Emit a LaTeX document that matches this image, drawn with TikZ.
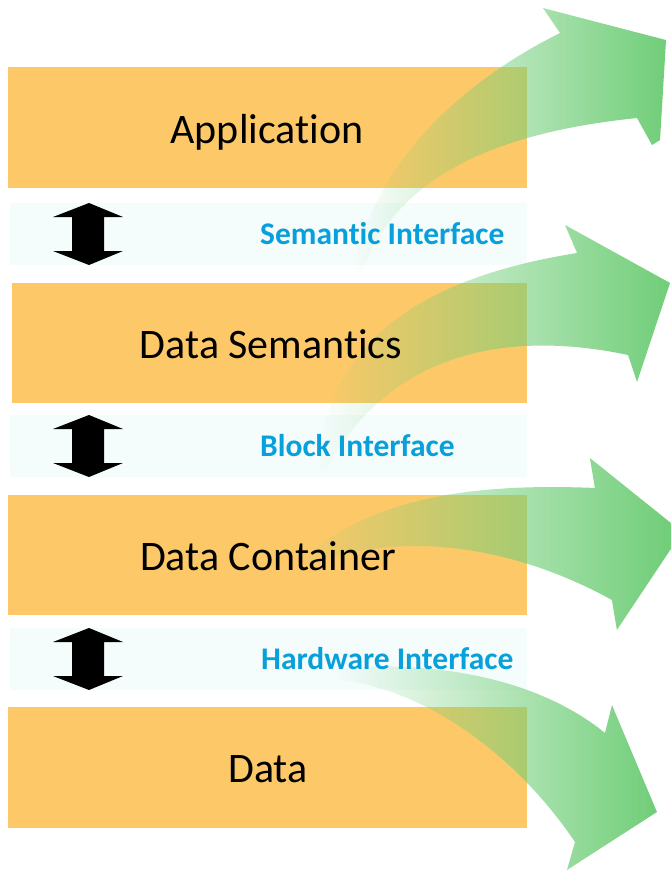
\documentclass[tikz,border=0pt]{standalone}
\usepackage{fontspec}
\setmainfont{Carlito}[RawFeature=-liga]
\usetikzlibrary{fadings}
\definecolor{boxorange}{RGB}{253,201,104}
\definecolor{stripblue}{RGB}{245,252,252}
\definecolor{labelblue}{RGB}{8,160,218}
\definecolor{arrowgreen}{RGB}{112,206,120}
\tikzfading[name=greenfade, left color=transparent!100, right color=transparent!0]
\tikzset{
  obox/.style={fill=boxorange, draw=none, inner sep=0pt, anchor=north west},
  strip/.style={fill=stripblue, draw=none, inner sep=0pt, anchor=north west, minimum width=517pt, minimum height=62pt},
  mainlabel/.style={anchor=base, inner sep=0pt, font=\fontsize{42}{50}\selectfont},
  ifacelabel/.style={anchor=base west, inner sep=0pt, text=labelblue, font=\fontsize{31.5}{36}\selectfont\bfseries},
  greenarrow/.style={fill=arrowgreen, path fading=greenfade},
  dblarrow/.style={fill=black}
}
\begin{document}
\begin{tikzpicture}[x=1pt,y=-1pt]
\useasboundingbox (0,0) rectangle (671,872);
\fill[white] (0,0) rectangle (671,872);
% interface strips
\node[strip] (s1) at (10,203) {};
\node[strip] (s2) at (10,415) {};
\node[strip] (s3) at (10,628) {};
% layer boxes
\node[obox, minimum width=519pt, minimum height=121pt] (b1) at (8,67) {};
\node[obox, minimum width=515pt, minimum height=120pt] (b2) at (12,283) {};
\node[obox, minimum width=519pt, minimum height=120pt] (b3) at (8,495) {};
\node[obox, minimum width=519pt, minimum height=121pt] (b4) at (8,707) {};
% double arrows
\foreach \t in {203,415,628}{
  \fill[dblarrow] (89,\t) -- (123,\t+14) -- (104,\t+14) -- (104,\t+48) -- (123,\t+48)
    -- (89,\t+62) -- (53,\t+48) -- (72,\t+48) -- (72,\t+14) -- (53,\t+14) -- cycle;
}
% green curved arrows
\fill[greenarrow] (354,272) .. controls (370,170) and (455,85) .. (560,33) -- (543,8)
  -- (666,40) -- (660,140) -- (652,145) -- (637,118)
  .. controls (520,130) and (400,165) .. (362,272) -- cycle;
\fill[greenarrow] (318,470) .. controls (325,330) and (440,275) .. (577,253) -- (565,225)
  -- (670,283) -- (637,382) -- (628,355)
  .. controls (510,330) and (390,350) .. (326,470) -- cycle;
\fill[greenarrow] (295,565) .. controls (360,505) and (450,482) .. (595,488) -- (590,458)
  -- (671,523) -- (671,549) -- (617,630) -- (612,600)
  .. controls (540,560) and (420,520) .. (300,568) -- cycle;
\fill[greenarrow] (335,668) .. controls (440,660) and (540,680) .. (605,733) -- (612,705)
  -- (657,812) -- (567,870) -- (575,842)
  .. controls (520,760) and (430,690) .. (340,680) -- cycle;
% labels
\node[mainlabel] (l1) at (267,143) {Application};
\node[mainlabel] (l2) at (271,358) {Data Semantics};
\node[mainlabel] (l3) at (268,570) {Data Container};
\node[mainlabel] (l4) at (268,782) {Data};
\node[ifacelabel] (i1) at (260,244) {Semantic Interface};
\node[ifacelabel] (i2) at (260,456) {Block Interface};
\node[ifacelabel] (i3) at (261,669) {Hardware Interface};
\end{tikzpicture}
\end{document}
